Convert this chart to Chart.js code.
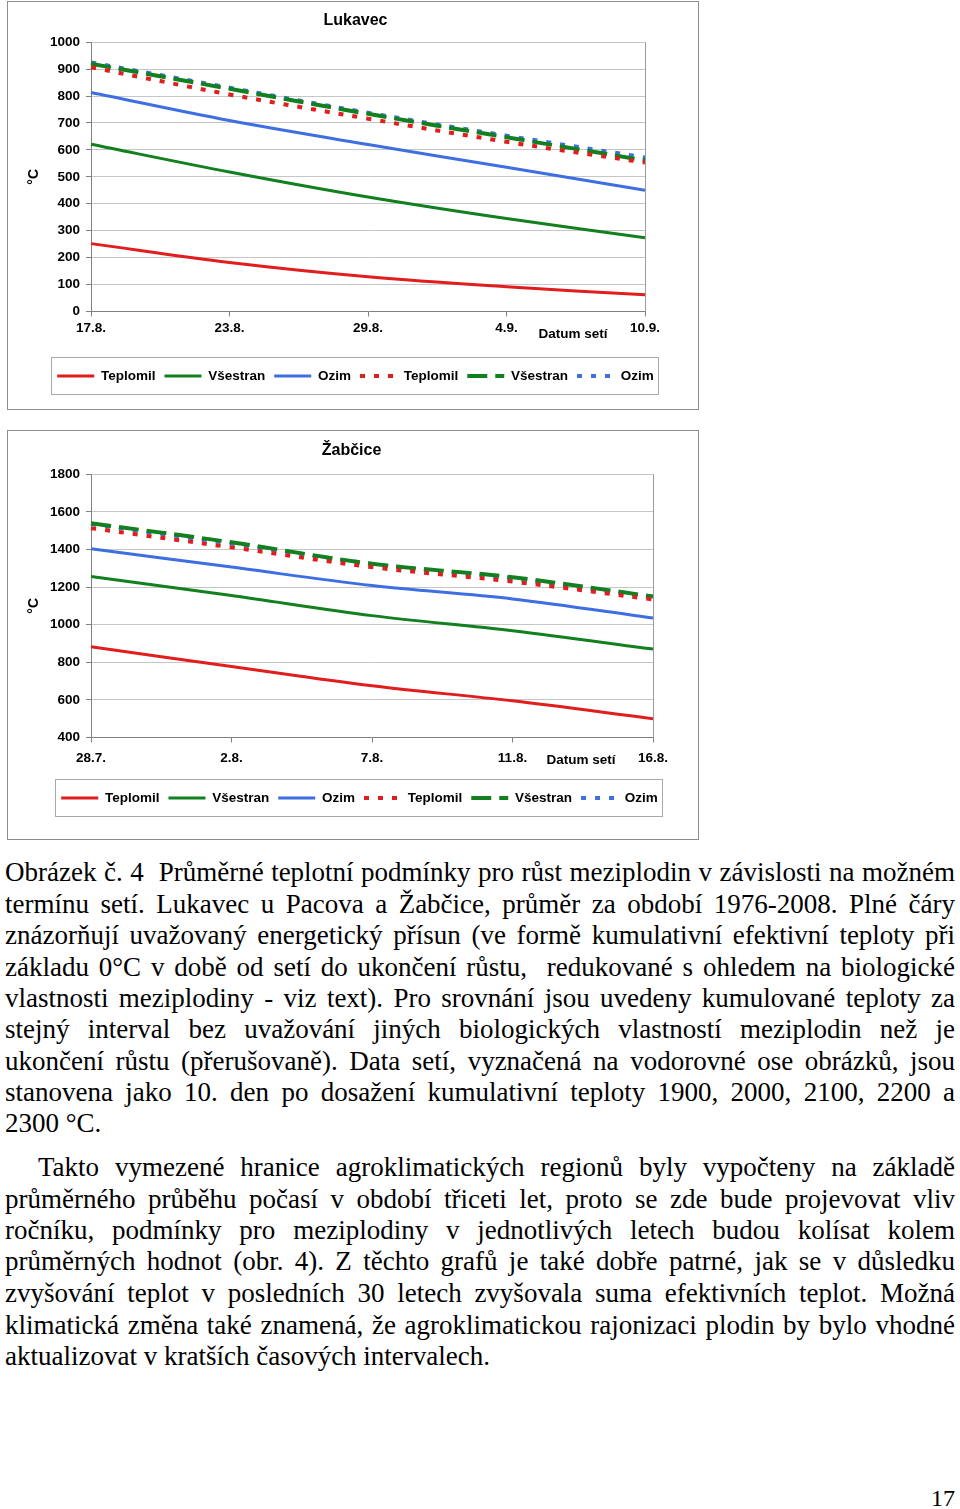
<!DOCTYPE html>
<html>
<head>
<meta charset="utf-8">
<script src="https://cdn.jsdelivr.net/npm/chart.js@4.4.1/dist/chart.umd.min.js"></script>
<style>
body { margin: 0; background: #fff; width: 960px; height: 1509px; position: relative; overflow: hidden; }
.box { position: absolute; left: 7px; width: 692px; border: 1px solid #8c8c8c; box-sizing: border-box; background: #fff; }
.box canvas { display: block; }
.ln { position: absolute; left: 5px; width: 950px; height: 31px; line-height: 31px;
      font-family: "Liberation Serif", "Times New Roman", serif; font-size: 27px; color: #000;
      white-space: nowrap; text-align: justify; text-align-last: justify; }
.ln.last { text-align-last: left; }
.pg { position: absolute; right: 5px; top: 1485px; font-family: "Liberation Serif", serif; font-size: 24px; }
</style>
</head>
<body>

<div class="box" style="top:1px;height:409px"><canvas id="lukavec" width="690" height="407"></canvas></div>
<div class="box" style="top:430px;height:410px"><canvas id="zabcice" width="690" height="408"></canvas></div>

<div class="ln" style="top:857px">Obrázek č. 4&nbsp; Průměrné teplotní podmínky pro růst meziplodin v závislosti na možném</div>
<div class="ln" style="top:889px">termínu setí. Lukavec u Pacova a Žabčice, průměr za období 1976-2008. Plné čáry</div>
<div class="ln" style="top:920px">znázorňují uvažovaný energetický přísun (ve formě kumulativní efektivní teploty při</div>
<div class="ln" style="top:952px">základu 0°C v době od setí do ukončení růstu,&nbsp; redukované s ohledem na biologické</div>
<div class="ln" style="top:983px">vlastnosti meziplodiny - viz text). Pro srovnání jsou uvedeny kumulované teploty za</div>
<div class="ln" style="top:1014px">stejný interval bez uvažování jiných biologických vlastností meziplodin než je</div>
<div class="ln" style="top:1046px">ukončení růstu (přerušovaně). Data setí, vyznačená na vodorovné ose obrázků, jsou</div>
<div class="ln" style="top:1077px">stanovena jako 10. den po dosažení kumulativní teploty 1900, 2000, 2100, 2200 a</div>
<div class="ln last" style="top:1108px">2300 °C.</div>

<div class="ln" style="top:1152px;left:38px;width:917px">Takto vymezené hranice agroklimatických regionů byly vypočteny na základě</div>
<div class="ln" style="top:1184px">průměrného průběhu počasí v období třiceti let, proto se zde bude projevovat vliv</div>
<div class="ln" style="top:1215px">ročníku, podmínky pro meziplodiny v jednotlivých letech budou kolísat kolem</div>
<div class="ln" style="top:1246px">průměrných hodnot (obr. 4). Z těchto grafů je také dobře patrné, jak se v důsledku</div>
<div class="ln" style="top:1278px">zvyšování teplot v posledních 30 letech zvyšovala suma efektivních teplot. Možná</div>
<div class="ln" style="top:1310px">klimatická změna také znamená, že agroklimatickou rajonizaci plodin by bylo vhodné</div>
<div class="ln last" style="top:1341px">aktualizovat v kratších časových intervalech.</div>

<div class="pg">17</div>

<script>
// Lukavec - sowing dates and cumulative temperatures (°C)
const lukDates = ['17.8.', '23.8.', '29.8.', '4.9.', '10.9.'];
const lukTeplomil = [252, 182, 129, 92, 62];
const lukVsestran = [621, 518, 425, 345, 274];
const lukOzim = [813, 709, 620, 536, 450];
const lukTeplomilFull = [907, 806, 716, 630, 553];
const lukVsestranFull = [920, 827, 734, 647, 561];
const lukOzimFull = [925, 831, 738, 653, 572];

// Zabcice
const zabDates = ['28.7.', '2.8.', '7.8.', '11.8.', '16.8.'];
const zabTeplomil = [882, 778, 675, 595, 500];
const zabVsestran = [1256, 1155, 1048, 968, 870];
const zabOzim = [1404, 1306, 1208, 1137, 1035];
const zabTeplomilFull = [1513, 1411, 1306, 1229, 1134];
const zabVsestranFull = [1539, 1438, 1324, 1252, 1150];
const zabOzimFull = [1535, 1431, 1323, 1244, 1145];

const seriesNames = ['Teplomil', 'Všestran', 'Ozim', 'Teplomil', 'Všestran', 'Ozim'];

const RED = '#e11d1d';
const GREEN = '#12801f';
const BLUE = '#3e6fe2';
const FONT = 'Arial, "Liberation Sans", Helvetica, sans-serif';

const styles = [
    { color: RED, dash: [], width: 3 },
    { color: GREEN, dash: [], width: 3 },
    { color: BLUE, dash: [], width: 3 },
    { color: RED, dash: [5, 9], width: 4 },
    { color: GREEN, dash: [20, 8], width: 4 },
    { color: BLUE, dash: [5, 9], width: 4 }
];

function makeChart(id, title, labels, series, yMin, yMax, yStep, lay) {
    const datasets = series.map((vals, i) => ({
        label: seriesNames[i],
        data: vals,
        borderColor: styles[i].color,
        backgroundColor: styles[i].color,
        borderWidth: styles[i].width,
        borderDash: styles[i].dash,
        borderCapStyle: 'butt',
        pointRadius: 0,
        tension: 0.35,
        fill: false
    }));

    const frame = {
        id: 'frame',
        afterLayout(chart) {
            const lg = chart.legend;
            const h = lg.bottom - lg.top;
            lg.top = lay.legendCenter - 9 - 6.75;
            lg.bottom = lg.top + h;
            lg.left += 24;
            lg.right += 24;
            const tb = chart.titleBlock;
            tb.left += lay.titleShift;
            tb.right += lay.titleShift;
        },
        afterDraw(chart) {
            const c = chart.ctx;
            const a = chart.chartArea;
            c.save();
            // right border of the plot area
            c.strokeStyle = '#9a9a9a';
            c.lineWidth = 1;
            c.beginPath();
            c.moveTo(Math.round(a.right) + 0.5, a.top);
            c.lineTo(Math.round(a.right) + 0.5, a.bottom);
            c.stroke();
            // legend frame
            const hb = chart.legend.legendHitBoxes;
            const l = hb[0].left - 6;
            const r = hb[hb.length - 1].left + hb[hb.length - 1].width + 4;
            c.strokeStyle = '#a8a8a8';
            c.strokeRect(Math.round(l) + 0.5, Math.round(lay.legendCenter - 19) + 0.5, Math.round(r - l), 37);
            // axis caption
            c.fillStyle = '#000';
            c.font = 'bold 13.5px ' + FONT;
            c.textAlign = 'center';
            c.textBaseline = 'middle';
            c.fillText('Datum setí', a.right - 72, a.bottom + 23);
            c.restore();
        }
    };

    return new Chart(document.getElementById(id), {
        type: 'line',
        data: { labels: labels, datasets: datasets },
        options: {
            responsive: false,
            animation: false,
            events: [],
            layout: { padding: { left: 10, right: lay.right, top: 0, bottom: 0 } },
            plugins: {
                title: {
                    display: true,
                    text: title,
                    color: '#000',
                    font: { family: FONT, size: 16, weight: 'bold' },
                    padding: { top: lay.titleTop, bottom: lay.titleBottom }
                },
                legend: {
                    position: 'bottom',
                    labels: {
                        usePointStyle: true,
                        pointStyle: 'line',
                        pointStyleWidth: 37,
                        padding: 9,
                        color: '#000',
                        font: { family: FONT, size: 13.5, weight: 'bold' },
                        generateLabels(chart) {
                            return Chart.defaults.plugins.legend.labels.generateLabels(chart).map(item => {
                                const ds = chart.data.datasets[item.datasetIndex];
                                item.lineDash = ds.borderDash;
                                item.lineWidth = ds.borderWidth;
                                item.strokeStyle = ds.borderColor;
                                item.fillStyle = ds.borderColor;
                                return item;
                            });
                        }
                    }
                },
                tooltip: { enabled: false }
            },
            scales: {
                x: {
                    offset: false,
                    grid: { drawOnChartArea: false, color: '#808080', tickLength: 5 },
                    border: { color: '#808080' },
                    ticks: {
                        color: '#000', padding: lay.xPad, autoSkip: false, maxRotation: 0,
                        font: { family: FONT, size: 13.5, weight: 'bold' }
                    },
                    afterFit(s) { s.height = lay.xHeight; }
                },
                y: {
                    min: yMin,
                    max: yMax,
                    grid: { color: '#c6c6c6', tickLength: 5, tickColor: '#808080' },
                    border: { color: '#808080' },
                    ticks: {
                        stepSize: yStep, color: '#000', padding: 6,
                        font: { family: FONT, size: 13.5, weight: 'bold' },
                        callback: v => String(v)
                    },
                    title: {
                        display: true,
                        text: '°C',
                        color: '#000',
                        font: { family: FONT, size: 14, weight: 'bold' },
                        padding: { top: 8, bottom: 0 }
                    },
                    afterFit(s) { s.width = 73; }
                }
            }
        },
        plugins: [frame]
    });
}

makeChart('lukavec', 'Lukavec', lukDates,
    [lukTeplomil, lukVsestran, lukOzim, lukTeplomilFull, lukVsestranFull, lukOzimFull],
    0, 1000, 100,
    { right: 53, titleTop: 9, titleBottom: 12, titleShift: 24, xPad: 4, xHeight: 65, legendCenter: 374 });

makeChart('zabcice', 'Žabčice', zabDates,
    [zabTeplomil, zabVsestran, zabOzim, zabTeplomilFull, zabVsestranFull, zabOzimFull],
    400, 1800, 200,
    { right: 45, titleTop: 10, titleBottom: 14, titleShift: 16, xPad: 8, xHeight: 69, legendCenter: 367 });
</script>
</body>
</html>
